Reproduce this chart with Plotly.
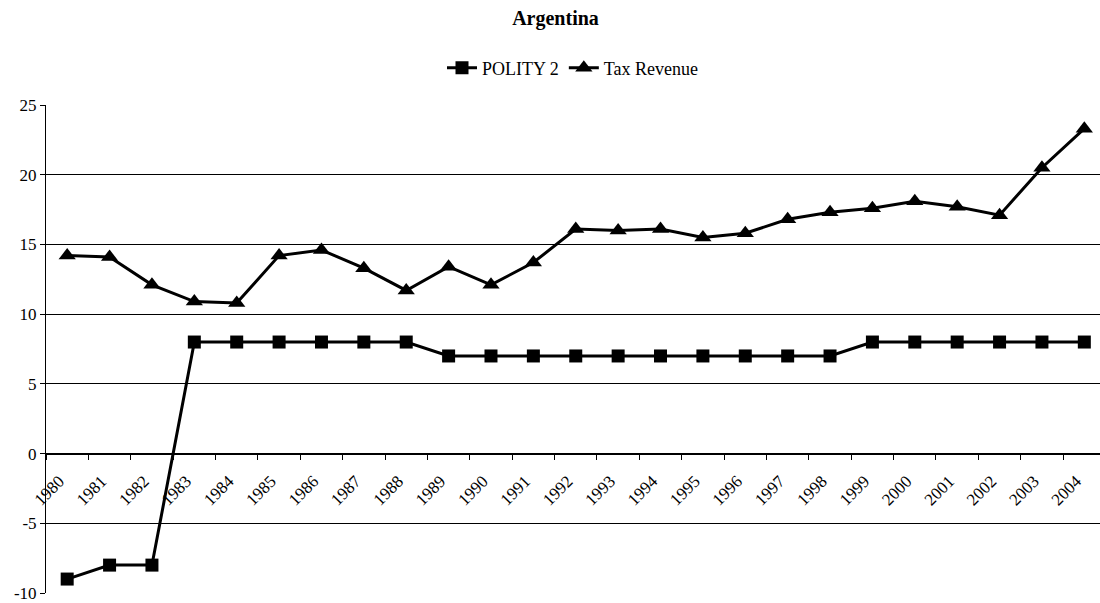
import plotly.graph_objects as go

years = [str(y) for y in range(1980, 2005)]
polity2 = [-9, -8, -8, 8, 8, 8, 8, 8, 8, 7, 7, 7, 7, 7, 7, 7, 7, 7, 7, 8, 8, 8, 8, 8, 8]
tax_revenue = [14.2, 14.1, 12.1, 10.9, 10.8, 14.2, 14.6, 13.3, 11.7, 13.4, 12.1, 13.7,
               16.1, 16.0, 16.1, 15.5, 15.8, 16.8, 17.3, 17.6, 18.1, 17.7, 17.1, 20.5, 23.3]
y_ticks = [-10, -5, 0, 5, 10, 15, 20, 25]
y_tick_text = ["-10", "-5", "0", "5", "10", "15", "20", "25"]

FONT = "Liberation Serif, Times New Roman, serif"

fig = go.Figure()
fig.add_trace(go.Scatter(
    x=years, y=polity2, name="POLITY 2", mode="lines+markers",
    line=dict(color="black", width=3),
    marker=dict(symbol="square", size=13, color="black"),
))
fig.add_trace(go.Scatter(
    x=years, y=tax_revenue, name="Tax Revenue", mode="lines+markers",
    line=dict(color="black", width=3),
    marker=dict(symbol="triangle-up", size=15, color="black"),
))

y_min, y_max = y_ticks[0], y_ticks[-1]
zero_pos = (0 - y_min) / (y_max - y_min)

fig.update_layout(
    width=1100, height=603,
    margin=dict(l=46, r=0, t=105, b=8),
    paper_bgcolor="white", plot_bgcolor="white",
    font=dict(family=FONT, size=17, color="black"),
    title=dict(text="<b>Argentina</b>", x=0.505, xanchor="center", xref="container",
               y=1 - 18 / 603, yanchor="middle", font=dict(size=20, family=FONT)),
    legend=dict(orientation="h", x=0.5, xanchor="center", y=1.0755, yanchor="middle",
                font=dict(size=18, family=FONT), itemwidth=30, tracegroupgap=0),
    xaxis=dict(
        type="category", range=[-0.5, 24.37],
        anchor="free", position=zero_pos,
        showline=True, linecolor="black", linewidth=1,
        ticks="outside", tickson="boundaries", ticklen=5, tickcolor="black",
        tickangle=-45, showgrid=False,
        ticklabelstandoff=10, ticklabelshift=-8,
        tickfont=dict(size=17, family=FONT),
    ),
    yaxis=dict(
        range=[y_min, y_max], tickmode="array", tickvals=y_ticks, ticktext=y_tick_text,
        showline=True, linecolor="black", linewidth=1,
        ticks="outside", ticklen=5, tickcolor="black",
        showgrid=True, gridcolor="black", gridwidth=1,
        zeroline=False, ticklabeloverflow="allow",
        tickfont=dict(size=17, family=FONT),
    ),
)

fig.write_html("out.html")
